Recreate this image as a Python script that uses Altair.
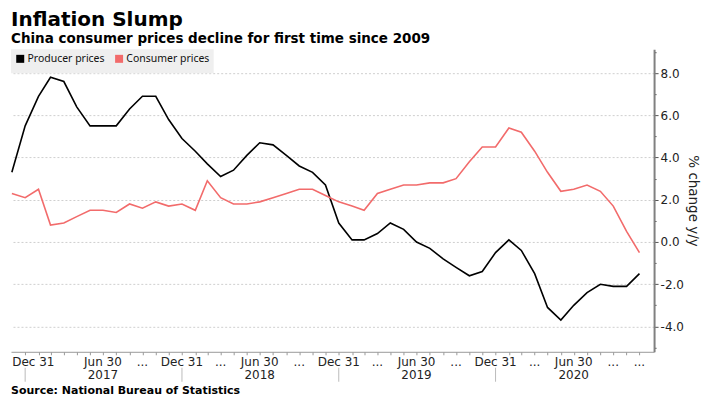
import altair as alt
import pandas as pd

# ---- data ----
months = pd.date_range("2016-11-30", "2020-11-30", freq="ME")
series_names = ["Producer prices", "Consumer prices"]
ppi = [3.3, 5.5, 6.9, 7.8, 7.6, 6.4, 5.5, 5.5, 5.5, 6.3, 6.9, 6.9, 5.8, 4.9,
       4.3, 3.7, 3.1, 3.4, 4.1, 4.7, 4.6, 4.1, 3.6, 3.3, 2.7, 0.9,
       0.1, 0.1, 0.4, 0.9, 0.6, 0.0, -0.3, -0.8, -1.2, -1.6, -1.4, -0.5,
       0.1, -0.4, -1.5, -3.1, -3.7, -3.0, -2.4, -2.0, -2.1, -2.1, -1.5]
cpi = [2.3, 2.1, 2.5, 0.8, 0.9, 1.2, 1.5, 1.5, 1.4, 1.8, 1.6, 1.9, 1.7, 1.8,
       1.5, 2.9, 2.1, 1.8, 1.8, 1.9, 2.1, 2.3, 2.5, 2.5, 2.2, 1.9,
       1.7, 1.5, 2.3, 2.5, 2.7, 2.7, 2.8, 2.8, 3.0, 3.8, 4.5, 4.5,
       5.4, 5.2, 4.3, 3.3, 2.4, 2.5, 2.7, 2.4, 1.7, 0.5, -0.5]

first_label_date = ["2016-12-31"]
first_label_text = ["Dec 31"]
label_dates = ["2017-06-30", "2017-09-30", "2017-12-31", "2018-03-31", "2018-06-30",
               "2018-09-30", "2018-12-31", "2019-03-31", "2019-06-30", "2019-09-30",
               "2019-12-31", "2020-03-31", "2020-06-30", "2020-09-30", "2020-11-30"]
label_texts = ["Jun 30", "...", "Dec 31", "...", "Jun 30", "...", "Dec 31", "...",
               "Jun 30", "...", "Dec 31", "...", "Jun 30", "...", "..."]
year_dates = ["2017-06-30", "2018-06-30", "2019-06-30", "2020-06-30"]
year_texts = ["2017", "2018", "2019", "2020"]
sep_dates = ["2016-12-31", "2017-12-31", "2018-12-31", "2019-12-31"]
y_ticks = list(range(-5, 10))

title = "Inflation Slump"
subtitle = "China consumer prices decline for first time since 2009"
source = "Source: National Bureau of Statistics"
y_title = "% change y/y"

W, H = 644, 303

df = pd.DataFrame({
    "date": list(months) * 2,
    "value": ppi + cpi,
    "series": [series_names[0]] * len(months) + [series_names[1]] * len(months),
})

tick_vals = [alt.DateTime(year=d.year, month=d.month, date=d.day)
             for d in pd.date_range("2016-12-31", "2020-11-30", freq="ME")]
x_domain = [alt.DateTime(year=2016, month=11, date=28),
            alt.DateTime(year=2021, month=1, date=3)]

x_enc = alt.X("date:T", scale=alt.Scale(domain=x_domain),
              axis=alt.Axis(values=tick_vals, labels=False, grid=False, title=None,
                            domainColor="#999999", tickColor="#999999", tickSize=3))

y_enc = alt.Y("value:Q",
              scale=alt.Scale(domain=[-5.2, 9.13], nice=False, zero=False),
              axis=alt.Axis(orient="right", values=y_ticks, title=y_title,
                            labelExpr="datum.value % 2 == 0 ? replace(format(datum.value, '.1f'), '\u2212', '-') : ''",
                            gridColor={"condition": {"test": "datum.value % 2 != 0", "value": "transparent"},
                                       "value": "#cfcfcf"},
                            gridDash=[2, 2],
                            tickSize={"condition": {"test": "datum.value % 2 != 0", "value": 2},
                                      "value": 4},
                            tickColor="#555555", domainColor="#808080", domainWidth=2,
                            labelPadding=2, titlePadding=2,
                            titleFont="DejaVu Sans", titleFontSize=13.5,
                            titleFontWeight="normal", titleColor="#222222"))

lines = alt.Chart(df).mark_line(strokeWidth=1.6).encode(
    x=x_enc, y=y_enc,
    color=alt.Color("series:N",
                    scale=alt.Scale(domain=series_names, range=["#000000", "#f26b6b"]),
                    legend=alt.Legend(title=None, orient="top-left", direction="horizontal",
                                      symbolType="square", symbolSize=16, symbolStrokeWidth=4,
                                      fillColor="#efefef", padding=4, offset=0,
                                      labelFont="Noto Sans", labelFontSize=10.5,
                                      labelColor="#111111", columnPadding=4, labelOffset=2)),
)

seps = alt.Chart(pd.DataFrame({"date": pd.to_datetime(sep_dates)})).mark_rule(
    color="#bbbbbb", strokeWidth=1).encode(
    x=x_enc, y=alt.value(H + 16), y2=alt.value(H + 30))

first_lab = alt.Chart(pd.DataFrame({"date": pd.to_datetime(first_label_date),
                                    "text": first_label_text})).mark_text(
    align="left", baseline="middle", dx=-13, font="DejaVu Sans", fontSize=12,
    color="#222222").encode(x=x_enc, y=alt.value(H + 10), text="text:N")

row1 = alt.Chart(pd.DataFrame({"date": pd.to_datetime(label_dates),
                               "text": label_texts})).mark_text(
    align="center", baseline="middle", font="DejaVu Sans", fontSize=12,
    color="#222222").encode(x=x_enc, y=alt.value(H + 10), text="text:N")

years = alt.Chart(pd.DataFrame({"date": pd.to_datetime(year_dates),
                                "text": year_texts})).mark_text(
    align="center", baseline="middle", font="DejaVu Sans", fontSize=12,
    color="#222222").encode(x=x_enc, y=alt.value(H + 23), text="text:N")

src = alt.Chart(pd.DataFrame({"text": [source]})).mark_text(
    align="left", baseline="middle", font="DejaVu Sans", fontSize=11,
    fontWeight="bold", color="#000000").encode(
    x=alt.value(0), y=alt.value(H + 39), text="text:N")

chart = alt.layer(lines, seps, first_lab, row1, years, src).properties(
    width=W, height=H,
    padding={"left": 0, "top": 1, "right": 2, "bottom": 0},
    title=alt.TitleParams(text=title, subtitle=subtitle, anchor="start", frame="group",
                          font="DejaVu Sans", fontSize=20, fontWeight="bold", color="#000000",
                          subtitleFont="DejaVu Sans", subtitleFontSize=13.5,
                          subtitleFontWeight="bold", subtitleColor="#000000",
                          subtitlePadding=2, offset=4),
).configure_view(stroke=None).configure_axis(
    labelFont="DejaVu Sans", labelFontSize=12, labelColor="#222222")

chart.save("out.html", embed_options={"renderer": "svg", "actions": False})
